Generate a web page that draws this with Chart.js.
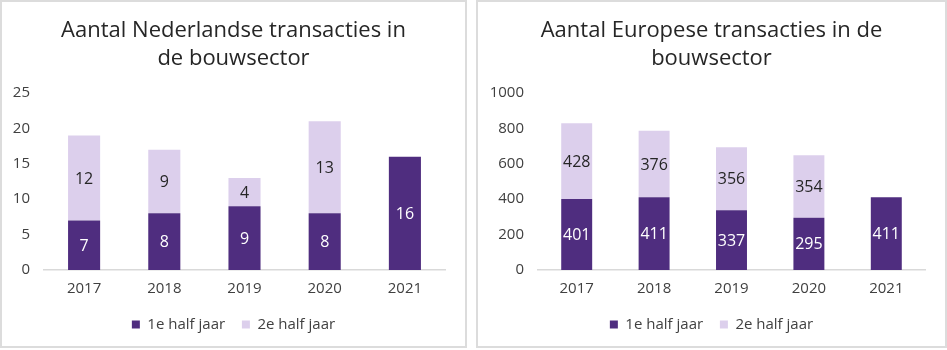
<!DOCTYPE html>
<html lang="nl">
<head>
<meta charset="UTF-8">
<title>Transacties in de bouwsector</title>
<script src="https://cdn.jsdelivr.net/npm/chart.js@4.4.1/dist/chart.umd.min.js"></script>
<style>
  body { margin: 0; background: #fff; width: 947px; height: 350px; position: relative; overflow: hidden; }
  .box { position: absolute; top: 0; border: 2px solid #dcdcdc; background: #fff; }
  #boxNL { left: 0; width: 463px; height: 344px; }
  #boxEU { left: 476px; width: 467px; height: 344px; }
  canvas { display: block; }
</style>
</head>
<body>
<div class="box" id="boxNL"><canvas id="chartNL" width="463" height="344"></canvas></div>
<div class="box" id="boxEU"><canvas id="chartEU" width="467" height="344"></canvas></div>

<script>
// data
const years = ['2017', '2018', '2019', '2020', '2021'];
const nlFirstHalf = [7, 8, 9, 8, 16];
const nlSecondHalf = [12, 9, 4, 13, null];
const euFirstHalf = [401, 411, 337, 295, 411];
const euSecondHalf = [428, 376, 356, 354, null];
const nlTicks = [0, 5, 10, 15, 20, 25];
const euTicks = [0, 200, 400, 600, 800, 1000];

const DARK = '#4f2d7f';
const LIGHT = '#dccfec';
const FONT = "'Open Sans', sans-serif";

// value labels in the middle of each bar segment
const barLabels = {
  id: 'barLabels',
  afterDatasetsDraw(chart) {
    const ctx = chart.ctx;
    ctx.save();
    ctx.font = '16px ' + FONT;
    ctx.textAlign = 'center';
    ctx.textBaseline = 'middle';
    chart.data.datasets.forEach((ds, i) => {
      const meta = chart.getDatasetMeta(i);
      meta.data.forEach((bar, j) => {
        const v = ds.data[j];
        if (v == null) return;
        ctx.fillStyle = i === 0 ? '#ffffff' : '#262626';
        ctx.fillText(String(v), bar.x, (bar.y + bar.base) / 2 + 1);
      });
    });
    ctx.restore();
  }
};

function makeChart(id, title, first, second, ticks, yWidth) {
  const ctx = document.getElementById(id).getContext('2d');
  return new Chart(ctx, {
    type: 'bar',
    data: {
      labels: years,
      datasets: [
        { label: '1e half jaar', data: first, backgroundColor: DARK, borderWidth: 0 },
        { label: '2e half jaar', data: second, backgroundColor: LIGHT, borderWidth: 0 }
      ]
    },
    options: {
      responsive: false,
      animation: false,
      barPercentage: 0.8,
      categoryPercentage: 0.5,
      layout: { padding: { left: 0, right: 0, top: 0, bottom: 4 } },
      plugins: {
        title: {
          display: true,
          text: title,
          color: '#262626',
          font: { family: FONT, size: 22, weight: 'normal', lineHeight: 1.25 },
          padding: { top: 15, bottom: 21 }
        },
        legend: {
          position: 'bottom',
          labels: {
            boxWidth: 8, boxHeight: 8,
            color: '#404040',
            font: { family: FONT, size: 15 },
            padding: 9,
            generateLabels(chart) {
              const items = Chart.defaults.plugins.legend.labels.generateLabels(chart);
              items[0].text += '  ';
              return items;
            }
          }
        },
        tooltip: { enabled: false }
      },
      scales: {
        x: {
          stacked: true,
          grid: { display: false, drawTicks: false },
          border: { display: true, color: '#d9d9d9', width: 1.5 },
          ticks: { color: '#404040', font: { family: FONT, size: 15 }, padding: 10 }
        },
        y: {
          stacked: true,
          min: ticks[0],
          max: ticks[ticks.length - 1],
          afterBuildTicks(scale) { scale.ticks = ticks.map(v => ({ value: v })); },
          afterFit(scale) { scale.width = yWidth; },
          grid: { display: false, drawTicks: false },
          border: { display: false },
          ticks: { color: '#404040', font: { family: FONT, size: 15 }, padding: 14,
                   callback: v => String(v) }
        },
        // empty right-hand spacer so the plot ends short of the frame
        spacer: {
          type: 'linear',
          position: 'right',
          afterFit(scale) { scale.width = 20; },
          grid: { display: false, drawTicks: false },
          border: { display: false },
          ticks: { display: false }
        }
      }
    },
    plugins: [barLabels]
  });
}

makeChart('chartNL', ['Aantal Nederlandse transacties in', 'de bouwsector'], nlFirstHalf, nlSecondHalf, nlTicks, 42);
makeChart('chartEU', ['Aantal Europese transacties in de', 'bouwsector'], euFirstHalf, euSecondHalf, euTicks, 60);
</script>
</body>
</html>
